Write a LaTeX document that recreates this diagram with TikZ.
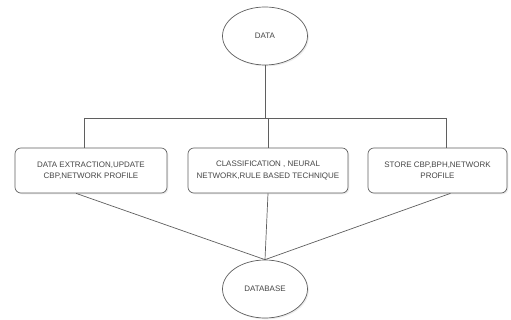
\documentclass[tikz,border=0pt]{standalone}
\usepackage{fontspec}
\setmainfont{Liberation Sans}
\usetikzlibrary{shapes.geometric,shadows}

\begin{document}
\begin{tikzpicture}[x=0.03cm, y=-0.03cm]

\definecolor{linegray}{RGB}{95,95,95}
\definecolor{textgray}{RGB}{70,70,70}
\def\boxheight{1.35cm}
\def\textfont{\fontsize{6.8}{9.6}\selectfont}

\tikzset{
  blob/.style={ellipse, draw=linegray, line width=0.6pt, fill=white, minimum width=2.55cm, minimum height=1.74cm, inner sep=0pt, text=textgray, font=\textfont, drop shadow={opacity=0.15, shadow xshift=0.04cm, shadow yshift=-0.04cm}},
  taskbox/.style={rectangle, rounded corners=5pt, draw=linegray, line width=0.6pt, fill=white, minimum height=\boxheight, align=center, text=textgray, font=\textfont, drop shadow={opacity=0.15, shadow xshift=0.04cm, shadow yshift=-0.04cm}},
  link/.style={draw=linegray, line width=0.6pt}
}

\useasboundingbox (0,0) rectangle (511,320);

% Ellipsen
\node[blob] (data) at (265,36) {DATA};
\node[blob] (db) at (265,289) {DATABASE};

% Aufgaben
\node[taskbox, minimum width=4.56cm] (extract) at (91,170.5) {DATA EXTRACTION,UPDATE\\CBP,NETWORK PROFILE};
\node[taskbox, minimum width=4.8cm] (classify) at (268,170.5) {CLASSIFICATION , NEURAL\\NETWORK,RULE BASED TECHNIQUE};
\node[taskbox, minimum width=4.17cm] (store) at (437.5,170.5) {STORE CBP,BPH,NETWORK\\PROFILE};

% Verteiler
\coordinate (barleft) at (84,118);
\coordinate (barright) at (446,118);

\draw[link] (data.south) -- (data.south |- barleft);
\draw[link] (barleft) -- (barright);
\draw[link] (barleft) -- (barleft |- extract.north);
\draw[link] (classify.north |- barleft) -- (classify.north);
\draw[link] (barright) -- (barright |- store.north);

% Zusammenfuehrung
\draw[link] ([xshift=-0.45cm]extract.south) -- (db.north);
\draw[link] (classify.south) -- (db.north);
\draw[link] ([xshift=0.39cm]store.south) -- (db.north);

\end{tikzpicture}
\end{document}
